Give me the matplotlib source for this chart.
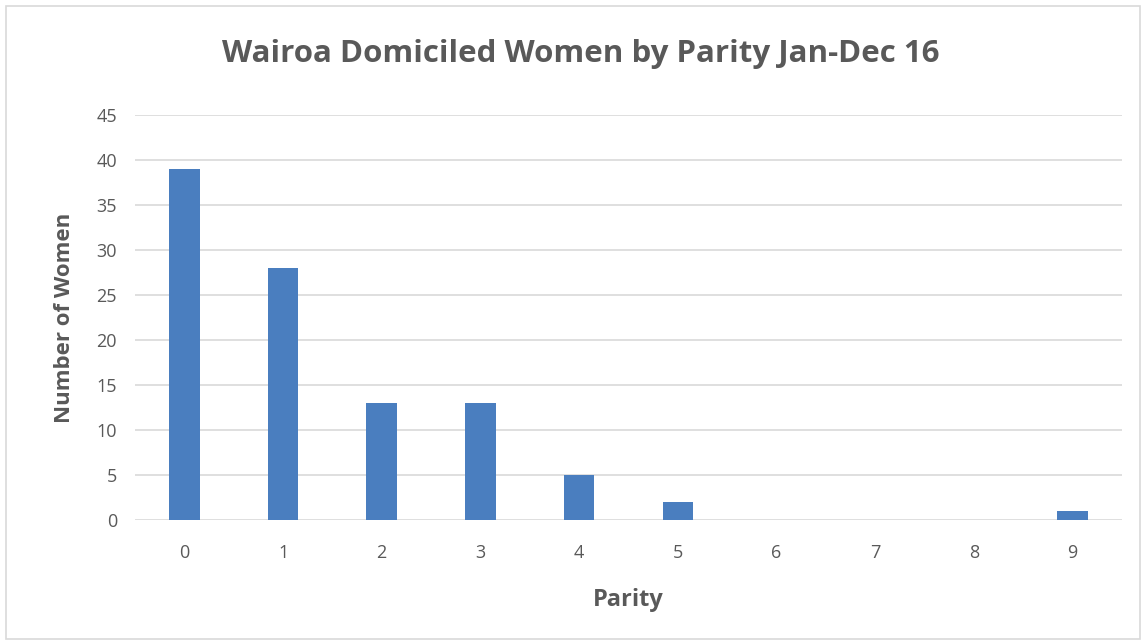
import numpy as np
import matplotlib.pyplot as plt
from matplotlib.patches import Rectangle

parity = ['0', '1', '2', '3', '4', '5', '6', '7', '8', '9']
women = [39, 28, 13, 13, 5, 2, 0, 0, 0, 1]
y_ticks = [0, 5, 10, 15, 20, 25, 30, 35, 40, 45]

plt.rcParams['font.family'] = ['Open Sans', 'DejaVu Sans']

fig = plt.figure(figsize=(11.46, 6.43), dpi=100)
fig.patches.append(Rectangle((0.005, 0.006), 0.99, 0.985, transform=fig.transFigure,
                             fill=False, edgecolor='#d9d9d9', linewidth=1.2))
ax = fig.add_axes([0.1178, 0.1913, 0.8612, 0.6299])

x = np.arange(len(parity))
ax.bar(x, women, width=0.31, color='#4a7ebf', zorder=3)

ax.set_xlim(-0.5, len(parity) - 0.5)
ax.set_ylim(0, 45)
ax.set_yticks(y_ticks)
ax.set_xticks(x)
ax.set_xticklabels(parity)
ax.grid(axis='y', color='#d9d9d9', linewidth=1.2, zorder=0)
ax.tick_params(length=0, labelsize=13, labelcolor='#595959')
ax.tick_params(axis='x', pad=17)
ax.tick_params(axis='y', pad=13)
for s in ax.spines.values():
    s.set_visible(False)

ax.set_ylabel('Number of Women', fontsize=16, fontweight='bold', color='#595959', labelpad=15)
ax.set_xlabel('Parity', fontsize=17, fontweight='bold', color='#595959', labelpad=19)
fig.text(0.507, 0.916, 'Wairoa Domiciled Women by Parity Jan-Dec 16', ha='center', va='center',
         fontsize=22.5, fontweight='bold', color='#595959')

fig.savefig('out.png', dpi=100)
